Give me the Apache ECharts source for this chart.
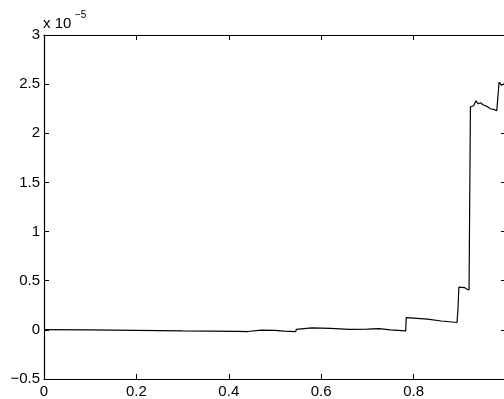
<!DOCTYPE html>
<html>
<head>
<meta charset="utf-8">
<script src="https://cdn.jsdelivr.net/npm/echarts@6/dist/echarts.min.js"></script>
<style>
  html, body { margin: 0; padding: 0; background: #fff; overflow: hidden; }
  #chart { width: 509px; height: 399px; }
</style>
</head>
<body>
<div id="chart"></div>
<script>
// values in units of 1e-5
const xs = [
  0, 0.1, 0.2, 0.3, 0.42, 0.441,
  0.442, 0.47, 0.5, 0.52, 0.545,
  0.546, 0.549, 0.58, 0.62, 0.66, 0.7, 0.725, 0.75, 0.783,
  0.784, 0.8, 0.83, 0.86, 0.894,
  0.895, 0.896, 0.897, 0.898, 0.91, 0.915, 0.92, 0.922,
  0.923, 0.927, 0.93, 0.935, 0.937, 0.94, 0.945, 0.95, 0.955, 0.96, 0.966, 0.97, 0.975, 0.98, 0.984,
  0.985, 0.99, 0.995, 1.0
];
const ys = [
  0.002, -0.001, -0.005, -0.01, -0.015, -0.017,
  0.0, -0.002, -0.006, -0.012, -0.017,
  0.005, 0.022, 0.02, 0.015, 0.005, 0.008, 0.012, 0.0, -0.01,
  0.125, 0.12, 0.11, 0.09, 0.075,
  0.08, 0.21, 0.22, 0.434, 0.43, 0.415, 0.405, 0.41,
  2.27, 2.29, 2.28, 2.33, 2.35, 2.3, 2.31, 2.29, 2.28, 2.27, 2.25, 2.26, 2.24, 2.23, 2.25,
  2.52, 2.49, 2.5, 2.5
];
const xTicks = [0, 0.2, 0.4, 0.6, 0.8];
const yTicks = [-0.5, 0, 0.5, 1, 1.5, 2, 2.5, 3];

const font = 'Liberation Sans, Arial, Helvetica, sans-serif';
const chart = echarts.init(document.getElementById('chart'));

function yLabel(v) {
  if (v < 0) return '\u2212' + String(-v);
  return String(v);
}
function xLabel(v) {
  return xTicks.indexOf(+v.toFixed(1)) >= 0 ? String(+v.toFixed(1)) : '';
}

const axisLine = { show: true, onZero: false, lineStyle: { color: '#000', width: 1.2 } };
const tick = { show: true, inside: true, length: 5, lineStyle: { color: '#000', width: 1 } };

chart.setOption({
  animation: false,
  backgroundColor: '#fff',
  grid: { left: 44, top: 35, right: 1.5, height: 344 },
  xAxis: [{
    type: 'value', min: 0, max: 1, interval: 0.2,
    axisLine: axisLine, axisTick: tick, splitLine: { show: false },
    axisLabel: { color: '#000', fontFamily: font, fontSize: 15, margin: 5, formatter: xLabel }
  }, {
    type: 'value', position: 'top', min: 0, max: 1, interval: 0.2,
    axisLine: axisLine, axisTick: tick, splitLine: { show: false },
    axisLabel: { show: false }
  }],
  yAxis: [{
    type: 'value', min: -0.5, max: 3, interval: 0.5,
    axisLine: axisLine, axisTick: tick, splitLine: { show: false },
    axisLabel: { color: '#000', fontFamily: font, fontSize: 15, margin: 4, formatter: yLabel }
  }, {
    type: 'value', position: 'right', min: -0.5, max: 3, interval: 0.5,
    axisLine: axisLine, axisTick: tick, splitLine: { show: false },
    axisLabel: { show: false }
  }],
  graphic: [
    { type: 'text', left: 43, top: 16, style: { text: 'x 10', fill: '#000', font: '15px ' + font } },
    { type: 'text', left: 75, top: 10, style: { text: '\u22125', fill: '#000', font: '10px ' + font } }
  ],
  series: [{
    type: 'line',
    data: xs.map((x, i) => [x, ys[i]]),
    showSymbol: false,
    lineStyle: { color: '#000', width: 1.2 },
    clip: true
  }]
});
</script>
</body>
</html>
